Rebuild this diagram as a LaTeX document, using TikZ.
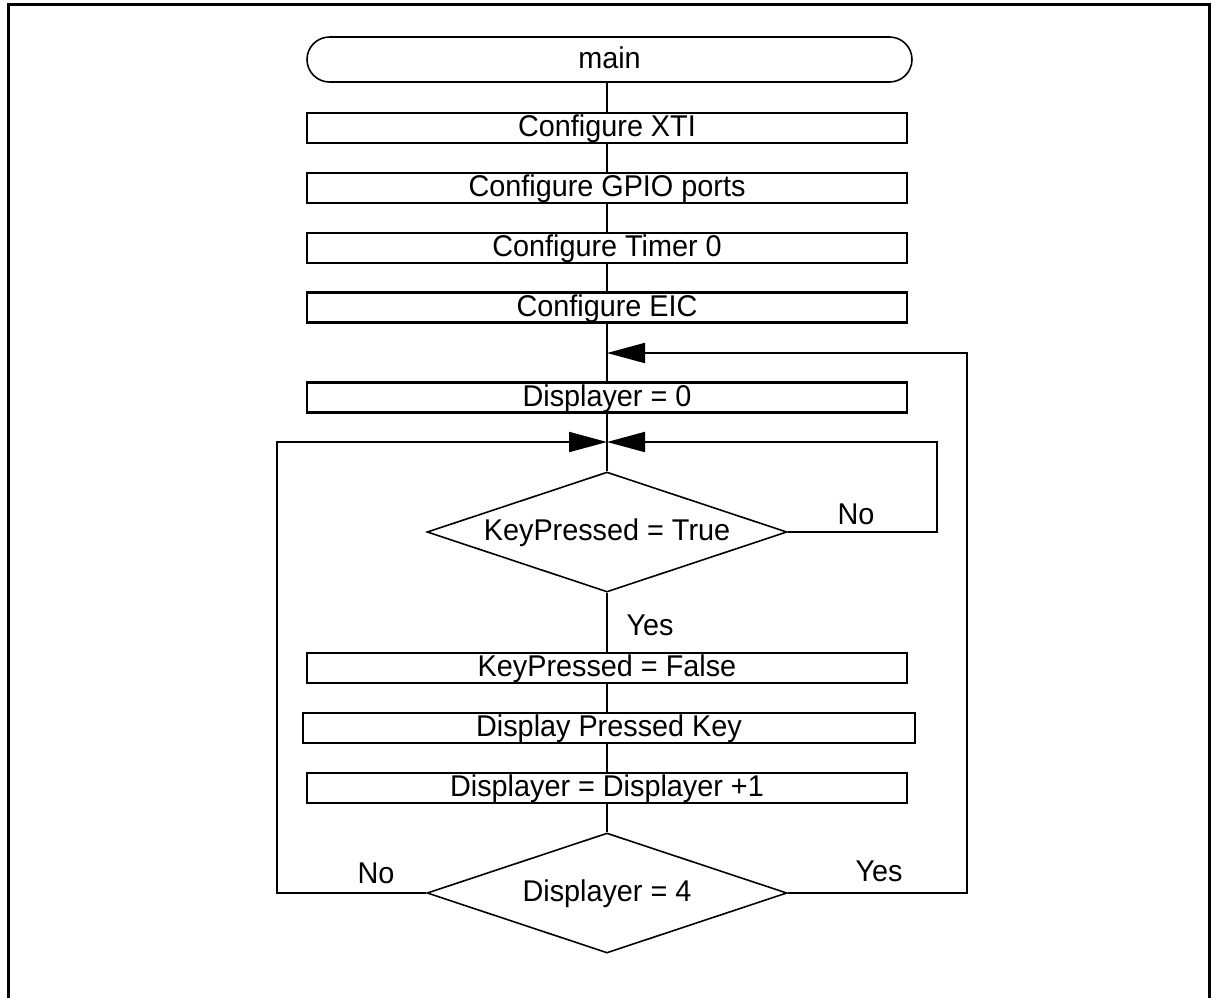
\documentclass[tikz,border=0pt]{standalone}
\usepackage{fontspec}
\setmainfont{Liberation Sans}[FakeStretch=0.96]
\usetikzlibrary{shapes.geometric,arrows.meta}

\tikzset{
  every node/.style={font=\fontsize{15pt}{17pt}\selectfont, inner sep=0pt,
    text height=11.8pt, text depth=3.1pt},
  frame/.style={line width=1.5pt},
  term/.style={draw, line width=0.8pt, rectangle, rounded corners=11.25pt,
    minimum width=302.5pt, minimum height=22.5pt},
  proc/.style={draw, line width=1.1pt, rectangle,
    minimum width=300pt, minimum height=15pt},
  decide/.style={draw, line width=0.8pt, diamond, aspect=3,
    minimum width=180pt, minimum height=60pt},
  flow/.style={line width=1pt},
  tip/.style={flow, -{Triangle[length=19pt,width=10pt]}},
  lbl/.style={}
}

\begin{document}
\begin{tikzpicture}[x=0.5pt,y=-0.5pt]
  \useasboundingbox (0,0) rectangle (1214,997);

  % surrounding frame, open at the foot of the page
  \draw[frame] (8,1010) -- (8,4) -- (1209,4) -- (1209,1010);

  % program steps
  \node[term] (main) at (609.5,59.5) {main};
  \node[proc] (xti)  at (607,128)   {Configure XTI};
  \node[proc] (gpio) at (607,188)   {Configure GPIO ports};
  \node[proc] (tmr)  at (607,248)   {Configure Timer 0};
  \node[proc] (eic)  at (607,307.5) {Configure EIC};
  \node[proc] (dz)   at (607,397.5) {Displayer = 0};
  \node[decide] (kp) at (607,532)   {KeyPressed = True};
  \node[proc] (kpf)  at (607,668)   {KeyPressed = False};
  \node[proc, minimum width=306pt] (dpk) at (609,728) {Display Pressed Key};
  \node[proc] (dinc) at (607,788)   {Displayer = Displayer +1};
  \node[decide] (d4) at (607,893)   {Displayer = 4};

  % junction points on the main line
  \coordinate (j1) at (607,353);
  \coordinate (j2) at (607,442);

  % straight flow
  \draw[flow] (main.south -| xti.north) -- (xti.north);
  \draw[flow] (xti) -- (gpio);
  \draw[flow] (gpio) -- (tmr);
  \draw[flow] (tmr) -- (eic);
  \draw[flow] (eic) -- (dz);
  \draw[flow] (dz) -- (kp.north);
  \draw[flow] (kp.south) -- (kpf);
  \draw[flow] (kpf.south) -- (kpf.south |- dpk.north);
  \draw[flow] (kpf.south |- dpk.south) -- (dinc.north);
  \draw[flow] (dinc) -- (d4.north);

  % loops back
  \draw[tip] (kp.east) -- (937,532) -- (937,442) -- (j2);
  \draw[tip] (d4.west) -- (277,893) -- (277,442) -- (j2);
  \draw[tip] (d4.east) -- (967,893) -- (967,353) -- (j1);

  % branch labels
  \node[lbl] (kpno)  at (856,516) {No};
  \node[lbl] (kpyes) at (650,627) {Yes};
  \node[lbl] (d4no)  at (376,875) {No};
  \node[lbl] (d4yes) at (879,873) {Yes};
\end{tikzpicture}
\end{document}
